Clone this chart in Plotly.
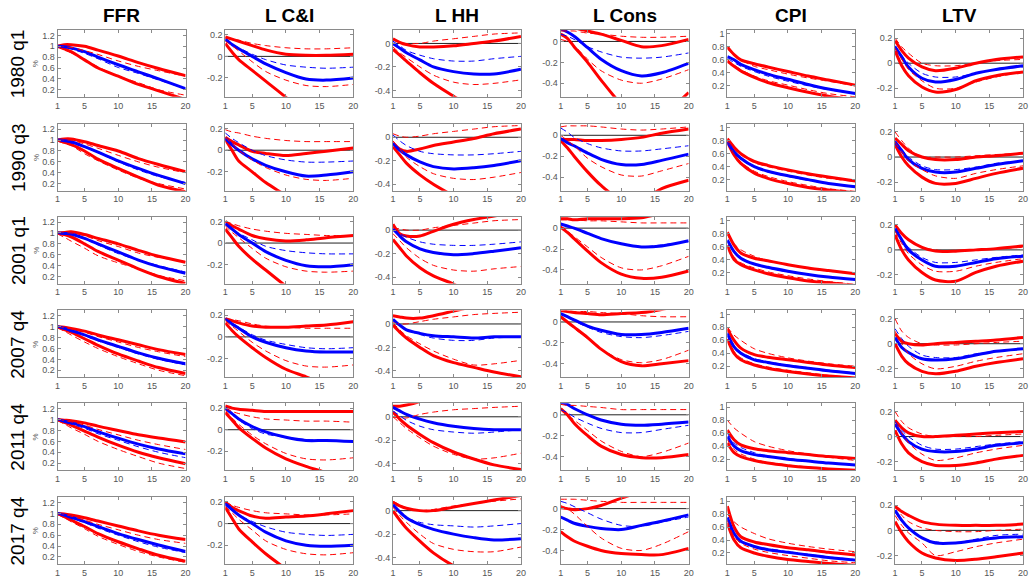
import plotly.graph_objects as go

# Impulse-response horizons (quarters) and panel labels
HORIZON = [1, 2, 3, 5, 7, 10, 13, 16, 20]
PERIODS = ["1980 q1", "1990 q3", "2001 q1", "2007 q4", "2011 q4", "2017 q4"]
VARIABLES = ["FFR", "L C&I", "L HH", "L Cons", "CPI", "LTV"]

# ---- FFR -------------------------------------------------------------
ffr_med = [
    [1.0, 0.99, 0.97, 0.9, 0.8, 0.66, 0.53, 0.4, 0.22],
    [1.0, 0.99, 0.97, 0.88, 0.78, 0.62, 0.48, 0.35, 0.2],
    [1.0, 0.99, 0.98, 0.9, 0.8, 0.65, 0.5, 0.38, 0.26],
    [1.0, 0.97, 0.93, 0.85, 0.76, 0.64, 0.52, 0.42, 0.32],
    [1.0, 0.97, 0.94, 0.87, 0.78, 0.66, 0.55, 0.46, 0.37],
    [1.0, 0.97, 0.93, 0.85, 0.76, 0.63, 0.52, 0.42, 0.3],
]
ffr_med_alt = [
    [1.0, 0.98, 0.95, 0.87, 0.77, 0.61, 0.5, 0.38, 0.22],
    [1.0, 0.98, 0.95, 0.87, 0.77, 0.6, 0.45, 0.33, 0.22],
    [1.0, 0.99, 0.97, 0.9, 0.78, 0.62, 0.5, 0.4, 0.28],
    [1.0, 0.96, 0.92, 0.84, 0.74, 0.62, 0.5, 0.4, 0.3],
    [1.0, 0.96, 0.92, 0.84, 0.74, 0.62, 0.5, 0.4, 0.3],
    [1.0, 0.96, 0.92, 0.83, 0.73, 0.6, 0.48, 0.38, 0.28],
]
ffr_hi = [
    [1.0, 1.03, 1.03, 1.0, 0.93, 0.82, 0.7, 0.59, 0.46],
    [1.0, 1.02, 1.02, 0.97, 0.9, 0.8, 0.66, 0.55, 0.42],
    [1.0, 1.01, 1.02, 0.97, 0.9, 0.8, 0.68, 0.57, 0.46],
    [1.0, 0.99, 0.97, 0.92, 0.85, 0.76, 0.67, 0.58, 0.49],
    [1.0, 0.99, 0.98, 0.94, 0.88, 0.8, 0.72, 0.66, 0.59],
    [1.0, 0.99, 0.97, 0.92, 0.86, 0.77, 0.68, 0.6, 0.52],
]
ffr_lo = [
    [1.0, 0.95, 0.9, 0.75, 0.6, 0.45, 0.3, 0.18, 0.02],
    [1.0, 0.96, 0.92, 0.8, 0.65, 0.48, 0.32, 0.17, 0.05],
    [1.0, 0.97, 0.93, 0.8, 0.66, 0.5, 0.34, 0.2, 0.07],
    [1.0, 0.95, 0.9, 0.78, 0.66, 0.5, 0.37, 0.25, 0.14],
    [1.0, 0.95, 0.9, 0.79, 0.68, 0.53, 0.4, 0.3, 0.19],
    [1.0, 0.94, 0.88, 0.76, 0.63, 0.48, 0.35, 0.23, 0.12],
]
ffr_hi_alt = [
    [1.0, 0.99, 0.98, 0.92, 0.85, 0.73, 0.63, 0.55, 0.45],
    [1.0, 1.0, 1.0, 0.93, 0.85, 0.72, 0.6, 0.5, 0.4],
    [1.0, 1.0, 1.0, 0.95, 0.86, 0.75, 0.63, 0.55, 0.47],
    [1.0, 0.98, 0.96, 0.9, 0.82, 0.72, 0.62, 0.54, 0.45],
    [1.0, 0.98, 0.96, 0.9, 0.82, 0.72, 0.62, 0.54, 0.45],
    [1.0, 0.98, 0.95, 0.88, 0.8, 0.7, 0.6, 0.52, 0.45],
]
ffr_lo_alt = [
    [1.0, 0.94, 0.88, 0.76, 0.62, 0.45, 0.33, 0.2, 0.1],
    [0.98, 0.94, 0.9, 0.75, 0.62, 0.45, 0.3, 0.2, 0.1],
    [0.98, 0.92, 0.85, 0.72, 0.58, 0.45, 0.34, 0.22, 0.12],
    [0.98, 0.92, 0.85, 0.72, 0.6, 0.45, 0.32, 0.2, 0.1],
    [0.98, 0.92, 0.85, 0.73, 0.6, 0.45, 0.32, 0.2, 0.1],
    [0.98, 0.92, 0.85, 0.72, 0.58, 0.43, 0.3, 0.2, 0.1],
]

# ---- L C&I -----------------------------------------------------------
lci_med = [
    [0.16, 0.11, 0.07, 0.0, -0.07, -0.15, -0.21, -0.22, -0.2],
    [0.11, 0.05, 0.0, -0.08, -0.14, -0.2, -0.24, -0.23, -0.2],
    [0.18, 0.13, 0.08, 0.0, -0.08, -0.16, -0.21, -0.22, -0.2],
    [0.17, 0.12, 0.08, 0.0, -0.05, -0.1, -0.13, -0.14, -0.14],
    [0.2, 0.15, 0.1, 0.03, -0.02, -0.07, -0.1, -0.1, -0.11],
    [0.19, 0.13, 0.08, 0.0, -0.08, -0.16, -0.2, -0.21, -0.2],
]
lci_med_alt = [
    [0.15, 0.11, 0.08, 0.02, -0.03, -0.08, -0.1, -0.11, -0.1],
    [0.16, 0.11, 0.07, 0.0, -0.05, -0.09, -0.11, -0.11, -0.1],
    [0.17, 0.13, 0.09, 0.03, -0.03, -0.07, -0.09, -0.1, -0.1],
    [0.17, 0.13, 0.09, 0.02, -0.03, -0.07, -0.1, -0.11, -0.1],
    [0.19, 0.14, 0.09, 0.01, -0.04, -0.07, -0.09, -0.1, -0.1],
    [0.17, 0.12, 0.08, 0.02, -0.03, -0.08, -0.1, -0.11, -0.1],
]
lci_hi = [
    [0.18, 0.16, 0.14, 0.1, 0.06, 0.02, 0.01, 0.01, 0.02],
    [0.12, 0.08, 0.05, -0.01, -0.03, -0.05, -0.03, -0.01, 0.02],
    [0.2, 0.16, 0.13, 0.07, 0.04, 0.02, 0.03, 0.05, 0.07],
    [0.17, 0.15, 0.13, 0.1, 0.09, 0.09, 0.1, 0.11, 0.14],
    [0.22, 0.2, 0.19, 0.18, 0.17, 0.17, 0.17, 0.17, 0.17],
    [0.2, 0.15, 0.12, 0.07, 0.05, 0.06, 0.07, 0.09, 0.12],
]
lci_lo = [
    [0.12, 0.04, -0.03, -0.13, -0.23, -0.38, -0.55, -0.7, -0.9],
    [0.1, 0.0, -0.1, -0.2, -0.3, -0.42, -0.55, -0.65, -0.8],
    [0.13, 0.05, -0.03, -0.15, -0.25, -0.4, -0.55, -0.68, -0.85],
    [0.13, 0.06, 0.0, -0.1, -0.19, -0.3, -0.37, -0.45, -0.55],
    [0.16, 0.09, 0.02, -0.08, -0.17, -0.27, -0.34, -0.4, -0.5],
    [0.15, 0.05, -0.05, -0.17, -0.28, -0.42, -0.55, -0.68, -0.85],
]
lci_hi_alt = [
    [0.17, 0.16, 0.15, 0.12, 0.1, 0.08, 0.07, 0.07, 0.08],
    [0.19, 0.17, 0.16, 0.13, 0.11, 0.09, 0.08, 0.08, 0.08],
    [0.2, 0.18, 0.16, 0.13, 0.11, 0.09, 0.08, 0.07, 0.07],
    [0.17, 0.16, 0.15, 0.12, 0.1, 0.09, 0.08, 0.08, 0.08],
    [0.2, 0.17, 0.15, 0.12, 0.1, 0.09, 0.08, 0.08, 0.07],
    [0.2, 0.17, 0.15, 0.12, 0.1, 0.09, 0.08, 0.08, 0.09],
]
lci_lo_alt = [
    [0.14, 0.1, 0.05, -0.05, -0.14, -0.22, -0.27, -0.28, -0.26],
    [0.12, 0.06, 0.0, -0.09, -0.16, -0.23, -0.27, -0.28, -0.26],
    [0.16, 0.1, 0.05, -0.05, -0.14, -0.22, -0.26, -0.27, -0.26],
    [0.15, 0.1, 0.05, -0.05, -0.13, -0.22, -0.27, -0.28, -0.26],
    [0.18, 0.11, 0.05, -0.05, -0.13, -0.22, -0.27, -0.28, -0.26],
    [0.16, 0.1, 0.04, -0.06, -0.16, -0.24, -0.28, -0.29, -0.27],
]

# ---- L HH ------------------------------------------------------------
lhh_med = [
    [0.0, -0.04, -0.08, -0.14, -0.2, -0.24, -0.26, -0.26, -0.22],
    [-0.05, -0.11, -0.15, -0.21, -0.25, -0.27, -0.26, -0.24, -0.2],
    [0.01, -0.05, -0.1, -0.16, -0.19, -0.21, -0.2, -0.18, -0.15],
    [0.04, -0.01, -0.05, -0.08, -0.1, -0.11, -0.12, -0.11, -0.11],
    [0.08, 0.05, 0.02, -0.02, -0.05, -0.08, -0.1, -0.11, -0.11],
    [0.05, -0.01, -0.06, -0.12, -0.16, -0.2, -0.23, -0.25, -0.24],
]
lhh_med_alt = [
    [0.02, -0.02, -0.06, -0.1, -0.13, -0.15, -0.15, -0.13, -0.11],
    [0.02, -0.03, -0.07, -0.12, -0.14, -0.15, -0.15, -0.14, -0.12],
    [0.01, -0.03, -0.06, -0.1, -0.12, -0.13, -0.13, -0.12, -0.1],
    [0.03, -0.01, -0.05, -0.09, -0.12, -0.14, -0.14, -0.12, -0.11],
    [0.05, 0.01, -0.03, -0.08, -0.11, -0.13, -0.14, -0.13, -0.11],
    [0.04, -0.01, -0.06, -0.1, -0.12, -0.13, -0.14, -0.13, -0.11],
]
lhh_hi = [
    [0.04, 0.01, -0.01, -0.03, -0.03, -0.02, 0.0, 0.02, 0.06],
    [-0.05, -0.1, -0.12, -0.1, -0.07, -0.04, -0.01, 0.03, 0.07],
    [0.05, -0.03, -0.05, -0.05, -0.01, 0.05, 0.09, 0.12, 0.16],
    [0.07, 0.06, 0.05, 0.05, 0.07, 0.11, 0.15, 0.19, 0.25],
    [0.09, 0.09, 0.1, 0.13, 0.17, 0.22, 0.25, 0.28, 0.3],
    [0.07, 0.04, 0.02, 0.0, 0.0, 0.03, 0.06, 0.09, 0.13],
]
lhh_lo = [
    [-0.05, -0.1, -0.15, -0.25, -0.34, -0.45, -0.55, -0.65, -0.75],
    [-0.08, -0.15, -0.22, -0.32, -0.4, -0.5, -0.6, -0.7, -0.8],
    [-0.08, -0.15, -0.22, -0.32, -0.39, -0.46, -0.55, -0.62, -0.7],
    [-0.01, -0.07, -0.12, -0.2, -0.27, -0.33, -0.37, -0.41, -0.45],
    [0.04, -0.02, -0.07, -0.15, -0.22, -0.3, -0.36, -0.41, -0.45],
    [0.0, -0.08, -0.15, -0.26, -0.36, -0.47, -0.55, -0.63, -0.72],
]
lhh_hi_alt = [
    [0.03, 0.01, 0.0, 0.0, 0.02, 0.04, 0.06, 0.08, 0.09],
    [0.03, 0.01, 0.0, 0.01, 0.03, 0.05, 0.07, 0.09, 0.1],
    [0.02, 0.01, 0.0, 0.0, 0.02, 0.04, 0.06, 0.08, 0.09],
    [0.01, 0.0, 0.0, 0.02, 0.04, 0.06, 0.08, 0.09, 0.1],
    [0.0, -0.01, -0.01, 0.02, 0.04, 0.06, 0.07, 0.08, 0.09],
    [0.08, 0.05, 0.02, 0.0, 0.01, 0.04, 0.06, 0.08, 0.1],
]
lhh_lo_alt = [
    [-0.03, -0.08, -0.12, -0.2, -0.27, -0.33, -0.35, -0.34, -0.31],
    [-0.03, -0.1, -0.17, -0.25, -0.31, -0.35, -0.36, -0.34, -0.3],
    [-0.03, -0.09, -0.15, -0.24, -0.3, -0.34, -0.35, -0.33, -0.31],
    [0.01, -0.05, -0.1, -0.17, -0.23, -0.3, -0.35, -0.34, -0.31],
    [0.0, -0.05, -0.1, -0.18, -0.25, -0.32, -0.36, -0.35, -0.31],
    [0.03, -0.04, -0.1, -0.2, -0.28, -0.33, -0.35, -0.35, -0.31],
]

# ---- L Cons ----------------------------------------------------------
lcons_med = [
    [0.12, 0.09, 0.05, -0.06, -0.17, -0.28, -0.33, -0.3, -0.21],
    [-0.03, -0.07, -0.1, -0.17, -0.23, -0.28, -0.28, -0.24, -0.18],
    [0.04, 0.02, 0.0, -0.05, -0.1, -0.15, -0.18, -0.17, -0.12],
    [0.08, 0.05, 0.02, -0.04, -0.08, -0.12, -0.12, -0.1, -0.06],
    [0.12, 0.1, 0.06, 0.0, -0.05, -0.09, -0.1, -0.09, -0.07],
    [-0.08, -0.11, -0.14, -0.17, -0.19, -0.2, -0.16, -0.12, -0.06],
]
lcons_med_alt = [
    [0.07, 0.05, 0.02, -0.05, -0.1, -0.15, -0.16, -0.15, -0.11],
    [0.07, 0.03, -0.02, -0.08, -0.12, -0.15, -0.15, -0.13, -0.1],
    [0.04, 0.02, 0.0, -0.05, -0.1, -0.15, -0.18, -0.16, -0.13],
    [0.08, 0.05, 0.01, -0.05, -0.1, -0.14, -0.15, -0.13, -0.09],
    [0.05, 0.02, -0.02, -0.08, -0.13, -0.17, -0.17, -0.14, -0.1],
    [0.07, 0.05, 0.02, -0.04, -0.1, -0.16, -0.17, -0.13, -0.08],
]
lcons_hi = [
    [0.16, 0.14, 0.13, 0.1, 0.07, 0.01, -0.05, -0.04, 0.02],
    [-0.04, -0.04, -0.04, -0.05, -0.05, -0.04, -0.02, 0.02, 0.06],
    [0.09, 0.09, 0.08, 0.09, 0.09, 0.09, 0.1, 0.14, 0.17],
    [0.11, 0.1, 0.09, 0.08, 0.07, 0.08, 0.09, 0.12, 0.18],
    [0.16, 0.16, 0.17, 0.17, 0.18, 0.18, 0.18, 0.18, 0.18],
    [0.01, 0.0, -0.01, 0.0, 0.03, 0.1, 0.16, 0.2, 0.25],
]
lcons_lo = [
    [0.07, 0.03, -0.05, -0.2, -0.37, -0.6, -0.75, -0.7, -0.49],
    [-0.05, -0.12, -0.2, -0.35, -0.48, -0.62, -0.62, -0.51, -0.43],
    [0.01, -0.04, -0.1, -0.22, -0.33, -0.44, -0.48, -0.47, -0.41],
    [0.05, 0.0, -0.05, -0.15, -0.26, -0.38, -0.42, -0.4, -0.37],
    [0.06, 0.0, -0.08, -0.2, -0.3, -0.38, -0.41, -0.41, -0.38],
    [-0.22, -0.27, -0.31, -0.36, -0.4, -0.43, -0.44, -0.44, -0.38],
]
lcons_hi_alt = [
    [0.1, 0.1, 0.1, 0.08, 0.07, 0.05, 0.04, 0.04, 0.05],
    [0.08, 0.09, 0.09, 0.09, 0.08, 0.06, 0.05, 0.06, 0.08],
    [0.08, 0.08, 0.08, 0.07, 0.07, 0.06, 0.05, 0.05, 0.05],
    [0.12, 0.11, 0.1, 0.1, 0.09, 0.08, 0.06, 0.05, 0.05],
    [0.1, 0.09, 0.09, 0.08, 0.07, 0.05, 0.05, 0.05, 0.05],
    [0.09, 0.09, 0.09, 0.08, 0.07, 0.06, 0.06, 0.06, 0.06],
]
lcons_lo_alt = [
    [0.02, 0.0, -0.04, -0.17, -0.28, -0.37, -0.4, -0.36, -0.27],
    [0.0, -0.05, -0.1, -0.22, -0.3, -0.38, -0.39, -0.34, -0.27],
    [0.02, -0.03, -0.08, -0.18, -0.28, -0.38, -0.4, -0.36, -0.27],
    [0.05, 0.0, -0.06, -0.16, -0.26, -0.36, -0.39, -0.36, -0.27],
    [0.05, 0.0, -0.05, -0.15, -0.25, -0.35, -0.4, -0.36, -0.27],
    [0.03, 0.0, -0.05, -0.17, -0.28, -0.38, -0.4, -0.34, -0.22],
]

# ---- CPI -------------------------------------------------------------
cpi_med = [
    [0.65, 0.6, 0.53, 0.45, 0.38, 0.3, 0.22, 0.15, 0.08],
    [0.78, 0.63, 0.53, 0.4, 0.33, 0.26, 0.2, 0.14, 0.09],
    [0.7, 0.52, 0.42, 0.33, 0.28, 0.22, 0.17, 0.13, 0.09],
    [0.7, 0.5, 0.4, 0.3, 0.26, 0.21, 0.17, 0.13, 0.09],
    [0.55, 0.4, 0.33, 0.27, 0.24, 0.2, 0.17, 0.14, 0.11],
    [0.75, 0.5, 0.38, 0.3, 0.25, 0.21, 0.17, 0.13, 0.09],
]
cpi_med_alt = [
    [0.62, 0.56, 0.5, 0.42, 0.35, 0.27, 0.2, 0.14, 0.08],
    [0.78, 0.62, 0.52, 0.39, 0.32, 0.25, 0.19, 0.14, 0.1],
    [0.68, 0.52, 0.43, 0.32, 0.27, 0.21, 0.17, 0.13, 0.09],
    [0.72, 0.52, 0.42, 0.32, 0.27, 0.22, 0.18, 0.14, 0.1],
    [0.6, 0.45, 0.38, 0.3, 0.25, 0.21, 0.17, 0.14, 0.11],
    [0.74, 0.5, 0.38, 0.3, 0.27, 0.22, 0.18, 0.14, 0.1],
]
cpi_hi = [
    [0.8, 0.68, 0.6, 0.54, 0.49, 0.42, 0.35, 0.29, 0.21],
    [0.83, 0.7, 0.6, 0.48, 0.42, 0.35, 0.29, 0.24, 0.18],
    [0.82, 0.62, 0.5, 0.42, 0.38, 0.32, 0.27, 0.23, 0.18],
    [0.78, 0.6, 0.48, 0.38, 0.34, 0.3, 0.26, 0.22, 0.18],
    [0.65, 0.5, 0.42, 0.36, 0.33, 0.3, 0.27, 0.24, 0.21],
    [0.92, 0.6, 0.45, 0.37, 0.33, 0.28, 0.25, 0.21, 0.17],
]
cpi_lo = [
    [0.58, 0.5, 0.43, 0.33, 0.25, 0.17, 0.1, 0.04, -0.02],
    [0.78, 0.58, 0.45, 0.3, 0.22, 0.14, 0.08, 0.04, 0.0],
    [0.62, 0.4, 0.32, 0.24, 0.18, 0.12, 0.07, 0.04, 0.0],
    [0.62, 0.4, 0.3, 0.22, 0.17, 0.12, 0.08, 0.05, 0.02],
    [0.45, 0.3, 0.24, 0.18, 0.14, 0.1, 0.07, 0.05, 0.03],
    [0.66, 0.4, 0.28, 0.2, 0.15, 0.1, 0.07, 0.04, 0.01],
]
cpi_hi_alt = [
    [0.77, 0.67, 0.6, 0.5, 0.45, 0.38, 0.32, 0.27, 0.2],
    [0.83, 0.68, 0.58, 0.46, 0.4, 0.33, 0.27, 0.22, 0.17],
    [0.78, 0.64, 0.55, 0.45, 0.38, 0.32, 0.26, 0.22, 0.18],
    [0.8, 0.68, 0.6, 0.47, 0.4, 0.33, 0.28, 0.24, 0.2],
    [0.8, 0.68, 0.6, 0.47, 0.4, 0.33, 0.28, 0.23, 0.18],
    [0.8, 0.68, 0.6, 0.5, 0.42, 0.35, 0.3, 0.26, 0.22],
]
cpi_lo_alt = [
    [0.6, 0.52, 0.45, 0.35, 0.28, 0.21, 0.14, 0.08, 0.03],
    [0.8, 0.6, 0.47, 0.33, 0.25, 0.17, 0.11, 0.06, 0.02],
    [0.6, 0.44, 0.35, 0.27, 0.21, 0.15, 0.1, 0.06, 0.02],
    [0.62, 0.43, 0.33, 0.24, 0.19, 0.14, 0.1, 0.06, 0.03],
    [0.5, 0.35, 0.28, 0.2, 0.15, 0.11, 0.08, 0.05, 0.02],
    [0.7, 0.45, 0.35, 0.26, 0.21, 0.16, 0.12, 0.08, 0.05],
]

# ---- LTV -------------------------------------------------------------
ltv_med = [
    [0.13, 0.05, -0.03, -0.12, -0.15, -0.13, -0.08, -0.05, -0.02],
    [0.12, 0.05, -0.02, -0.09, -0.12, -0.12, -0.09, -0.06, -0.03],
    [0.17, 0.08, 0.0, -0.08, -0.13, -0.13, -0.1, -0.07, -0.05],
    [0.05, -0.03, -0.07, -0.12, -0.13, -0.12, -0.09, -0.06, -0.04],
    [0.1, 0.02, -0.04, -0.1, -0.12, -0.12, -0.1, -0.07, -0.05],
    [0.16, 0.08, 0.02, -0.06, -0.1, -0.1, -0.08, -0.06, -0.05],
]
ltv_med_alt = [
    [0.14, 0.06, 0.0, -0.08, -0.11, -0.11, -0.08, -0.05, -0.03],
    [0.13, 0.06, 0.0, -0.07, -0.1, -0.1, -0.08, -0.05, -0.03],
    [0.16, 0.08, 0.02, -0.06, -0.1, -0.1, -0.08, -0.06, -0.04],
    [0.12, 0.04, -0.02, -0.09, -0.11, -0.11, -0.08, -0.06, -0.04],
    [0.12, 0.05, 0.0, -0.07, -0.1, -0.1, -0.08, -0.06, -0.04],
    [0.15, 0.07, 0.02, -0.06, -0.09, -0.1, -0.07, -0.04, -0.03],
]
ltv_hi = [
    [0.18, 0.1, 0.04, -0.03, -0.06, -0.04, 0.0, 0.03, 0.05],
    [0.15, 0.1, 0.05, 0.0, -0.02, -0.02, 0.0, 0.01, 0.03],
    [0.2, 0.13, 0.08, 0.02, -0.01, -0.01, 0.0, 0.01, 0.03],
    [0.08, 0.02, 0.0, -0.01, 0.0, 0.01, 0.02, 0.03, 0.05],
    [0.13, 0.07, 0.03, 0.0, 0.0, 0.01, 0.02, 0.03, 0.04],
    [0.19, 0.15, 0.12, 0.07, 0.05, 0.04, 0.04, 0.04, 0.05],
]
ltv_lo = [
    [0.1, -0.02, -0.1, -0.19, -0.23, -0.21, -0.14, -0.1, -0.07],
    [0.1, 0.0, -0.07, -0.16, -0.21, -0.21, -0.17, -0.13, -0.09],
    [0.12, 0.0, -0.08, -0.18, -0.24, -0.25, -0.18, -0.13, -0.09],
    [0.0, -0.1, -0.16, -0.22, -0.24, -0.22, -0.18, -0.15, -0.12],
    [0.05, -0.06, -0.13, -0.2, -0.23, -0.23, -0.21, -0.18, -0.15],
    [0.07, -0.02, -0.09, -0.18, -0.22, -0.24, -0.23, -0.21, -0.18],
]
ltv_hi_alt = [
    [0.2, 0.13, 0.08, 0.0, -0.02, -0.02, 0.0, 0.02, 0.03],
    [0.2, 0.13, 0.07, 0.0, 0.0, 0.0, 0.01, 0.02, 0.03],
    [0.2, 0.13, 0.08, 0.02, 0.0, -0.01, 0.0, 0.01, 0.02],
    [0.2, 0.1, 0.05, 0.0, -0.01, -0.01, 0.0, 0.01, 0.02],
    [0.2, 0.12, 0.07, 0.02, 0.0, 0.0, 0.0, 0.01, 0.02],
    [0.2, 0.12, 0.07, 0.02, 0.0, -0.01, -0.01, 0.0, 0.01],
]
ltv_lo_alt = [
    [0.12, 0.03, -0.05, -0.14, -0.2, -0.2, -0.15, -0.11, -0.07],
    [0.12, 0.04, -0.03, -0.1, -0.15, -0.17, -0.13, -0.1, -0.07],
    [0.15, 0.05, -0.03, -0.12, -0.17, -0.17, -0.13, -0.1, -0.07],
    [0.1, 0.0, -0.08, -0.16, -0.2, -0.18, -0.14, -0.11, -0.08],
    [0.12, 0.03, -0.05, -0.14, -0.19, -0.17, -0.13, -0.1, -0.07],
    [0.12, 0.04, -0.02, -0.1, -0.2, -0.17, -0.13, -0.1, -0.07],
]

# y-axis limits and ticks for each variable column
Y_RANGE = [[0.07, 1.3], [-0.375, 0.245], [-0.455, 0.115], [-0.53, 0.11], [0.03, 1.06], [-0.268, 0.265]]
Y_TICKS = [
    [0.2, 0.4, 0.6, 0.8, 1, 1.2],
    [-0.2, 0, 0.2],
    [-0.4, -0.2, 0],
    [-0.4, -0.2, 0],
    [0.2, 0.4, 0.6, 0.8, 1],
    [-0.2, 0, 0.2],
]
X_TICKS = [1, 5, 10, 15, 20]
ZERO_LINE = [False, True, True, True, False, True]

# column -> series lookup built from the arrays above
SERIES = [
    (ffr_med, ffr_med_alt, ffr_hi, ffr_lo, ffr_hi_alt, ffr_lo_alt),
    (lci_med, lci_med_alt, lci_hi, lci_lo, lci_hi_alt, lci_lo_alt),
    (lhh_med, lhh_med_alt, lhh_hi, lhh_lo, lhh_hi_alt, lhh_lo_alt),
    (lcons_med, lcons_med_alt, lcons_hi, lcons_lo, lcons_hi_alt, lcons_lo_alt),
    (cpi_med, cpi_med_alt, cpi_hi, cpi_lo, cpi_hi_alt, cpi_lo_alt),
    (ltv_med, ltv_med_alt, ltv_hi, ltv_lo, ltv_hi_alt, ltv_lo_alt),
]

RED = "#ff0000"
BLUE = "#0000ff"
W, H = 1032, 578
COL_LEFT = [55, 224, 393, 562, 730, 899]
PANEL_W = 129
ROW_TOP = [29, 123, 216, 310, 403, 497]
PANEL_H = 67
SANS = "Arial"
TICK_FONT = dict(family=SANS, size=9, color="#555555")
FRAME = "#8a8a8a"

fig = go.Figure()
layout = dict(
    width=W, height=H, margin=dict(l=0, r=0, t=0, b=0),
    paper_bgcolor="white", plot_bgcolor="white", showlegend=False,
    font=dict(family=SANS),
)
annotations = []

for r in range(6):
    for c in range(6):
        k = r * 6 + c + 1
        xa, ya = f"x{k}", f"y{k}"
        x0 = COL_LEFT[c] / W
        x1 = (COL_LEFT[c] + PANEL_W) / W
        y1 = 1 - ROW_TOP[r] / H
        y0 = 1 - (ROW_TOP[r] + PANEL_H) / H
        common = dict(
            showgrid=False, zeroline=False, showline=True, linecolor=FRAME,
            linewidth=1, mirror="ticks", ticks="inside", ticklen=3,
            tickcolor=FRAME, tickfont=TICK_FONT,
        )
        layout[f"xaxis{k}"] = dict(
            domain=[x0, x1], anchor=ya, range=[1, 20], tickvals=X_TICKS,
            ticktext=[str(t) for t in X_TICKS], **common,
        )
        layout[f"yaxis{k}"] = dict(
            domain=[y0, y1], anchor=xa, range=Y_RANGE[c], tickvals=Y_TICKS[c],
            ticktext=[f"{t:g}" for t in Y_TICKS[c]], **common,
        )

        med, med_alt, hi, lo, hi_alt, lo_alt = (s[r] for s in SERIES[c])

        if ZERO_LINE[c]:
            fig.add_trace(go.Scatter(
                x=[1, 20], y=[0, 0], xaxis=xa, yaxis=ya, mode="lines",
                line=dict(color="#222222", width=1), hoverinfo="skip",
            ))
        # solid bands and median
        for ys, col in ((hi, RED), (lo, RED), (med, BLUE)):
            fig.add_trace(go.Scatter(
                x=HORIZON, y=ys, xaxis=xa, yaxis=ya, mode="lines",
                line=dict(color=col, width=3, shape="spline", smoothing=0.8),
            ))
        # dashed counterparts
        for ys, col in ((hi_alt, RED), (lo_alt, RED), (med_alt, BLUE)):
            fig.add_trace(go.Scatter(
                x=HORIZON, y=ys, xaxis=xa, yaxis=ya, mode="lines",
                line=dict(color=col, width=1, dash="6px,4px", shape="spline", smoothing=0.8),
            ))

        if c == 0:
            annotations.append(dict(
                text="%", xref="paper", yref="paper", x=33 / W,
                y=1 - (ROW_TOP[r] + PANEL_H / 2) / H, showarrow=False,
                xanchor="center", yanchor="middle", textangle=-90,
                font=dict(family=SANS, size=8, color="#555555"),
            ))

    annotations.append(dict(
        text=PERIODS[r], xref="paper", yref="paper", x=15 / W,
        y=1 - (ROW_TOP[r] + PANEL_H / 2) / H, showarrow=False, textangle=-90,
        xanchor="center", yanchor="middle",
        font=dict(family=SANS, size=19, color="#000000"),
    ))

for c, name in enumerate(VARIABLES):
    annotations.append(dict(
        text=f"<b>{name}</b>", xref="paper", yref="paper",
        x=(COL_LEFT[c] + PANEL_W / 2) / W, y=1 - 15 / H, showarrow=False,
        xanchor="center", yanchor="middle",
        font=dict(family=SANS, size=19, color="#000000"),
    ))

layout["annotations"] = annotations
fig.update_layout(**layout)
fig.write_html("out.html")
